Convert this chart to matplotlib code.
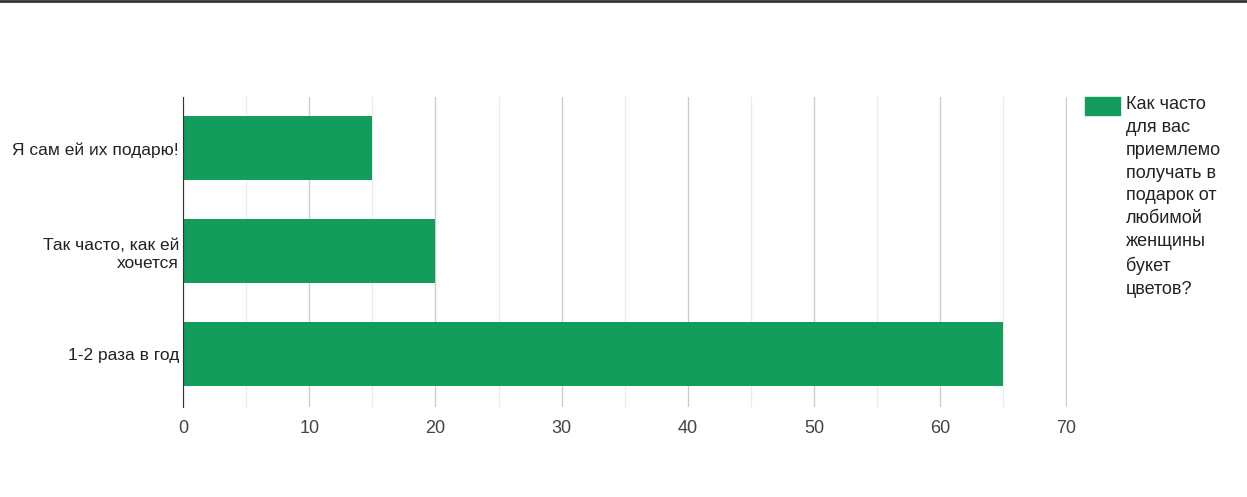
import matplotlib.pyplot as plt
from matplotlib.ticker import MultipleLocator

plt.rcParams['font.family'] = ['Liberation Sans', 'DejaVu Sans']

# data
categories = ['Я сам ей их подарю!', 'Так часто, как ей\nхочется', '1-2 раза в год']
values = [15, 20, 65]
legend_label = 'Как часто\nдля вас\nприемлемо\nполучать в\nподарок от\nлюбимой\nженщины\nбукет\nцветов?'
bar_color = '#139c5b'

fig = plt.figure(figsize=(12.47, 4.97), dpi=100)
ax = fig.add_axes([0.1468, 0.181, 0.8557 - 0.1468, 0.8048 - 0.181])

ypos = list(range(len(categories)))
ax.barh(ypos, values, height=0.625, color=bar_color, zorder=3)

ax.set_ylim(2.52, -0.5)
ax.set_xlim(0, 70.05)
ax.set_yticks(ypos)
ax.set_yticklabels(categories, fontsize=12.5, color='#222222', linespacing=1.3)
ax.xaxis.set_major_locator(MultipleLocator(10))
ax.xaxis.set_minor_locator(MultipleLocator(5))
ax.grid(axis='x', which='major', color='#cccccc', linewidth=1, zorder=0)
ax.grid(axis='x', which='minor', color='#ebebeb', linewidth=1, zorder=0)
ax.tick_params(axis='both', which='both', length=0)
ax.tick_params(axis='x', labelsize=13, labelcolor='#444444', pad=9)
ax.tick_params(axis='y', pad=3)
for s in ['top', 'right', 'bottom']:
    ax.spines[s].set_visible(False)
ax.spines['left'].set_color('#333333')
ax.spines['left'].set_zorder(4)

# legend drawn manually to the right
fig.patches.append(plt.Rectangle((1085 / 1247, 1 - 115 / 497), 35 / 1247, 18 / 497,
                                 transform=fig.transFigure, color=bar_color))
fig.text(1126 / 1247, 1 - 96 / 497, legend_label, fontsize=13, color='#222222',
         va='top', ha='left', linespacing=1.45)

# top border line
fig.add_artist(plt.Line2D([0, 1], [0.998, 0.998], color='#333333', linewidth=2,
                          transform=fig.transFigure))

fig.savefig('out.png', dpi=100)
